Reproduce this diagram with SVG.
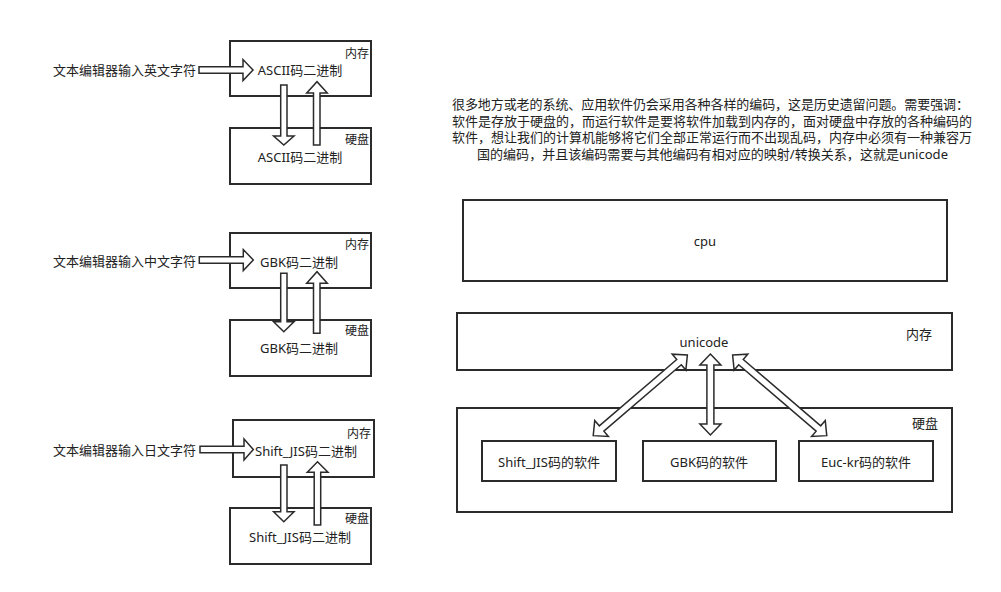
<svg xmlns="http://www.w3.org/2000/svg" width="1001" height="592" viewBox="0 0 1001 592">
<style>
text{font-family:"Noto Sans","Noto Sans CJK SC",sans-serif;font-size:13px;fill:#222;dominant-baseline:central}
.box{fill:none;stroke:#2b2b2b;stroke-width:2}
.tag{font-size:12px;text-anchor:end}
.mid{text-anchor:middle}
.arr{fill:#fff;stroke:#2b2b2b;stroke-width:1.5;stroke-linejoin:miter}
</style>
<defs>
<polygon id="dbl" points="-62,0 -51,-10.5 -51,-3.5 51,-3.5 51,-10.5 62,0 51,10.5 51,3.5 -51,3.5 -51,10.5"/>
<polygon id="dblv" points="-40.5,0 -29.5,-10.5 -29.5,-3.5 29.5,-3.5 29.5,-10.5 40.5,0 29.5,10.5 29.5,3.5 -29.5,3.5 -29.5,10.5"/>
</defs>
<rect width="1001" height="592" fill="#fff"/>

<g id="label1"><text x="53" y="70">文本编辑器输入英文字符</text></g>
<g id="mem1"><rect class="box" x="230" y="41" width="141" height="55"/><text class="tag" x="369" y="53">内存</text><text class="mid" x="300" y="70">ASCII码二进制</text></g>
<g id="disk1"><rect class="box" x="230" y="128" width="141" height="56"/><text class="tag" x="369" y="139">硬盘</text><text class="mid" x="300" y="157">ASCII码二进制</text></g>

<g id="label2"><text x="53" y="261">文本编辑器输入中文字符</text></g>
<g id="mem2"><rect class="box" x="230" y="233" width="141" height="55"/><text class="tag" x="369" y="244">内存</text><text class="mid" x="299" y="262">GBK码二进制</text></g>
<g id="disk2"><rect class="box" x="230" y="320" width="141" height="56"/><text class="tag" x="369" y="330">硬盘</text><text class="mid" x="299" y="348">GBK码二进制</text></g>

<g id="label3"><text x="53" y="450">文本编辑器输入日文字符</text></g>
<g id="mem3"><rect class="box" x="233" y="420" width="141" height="57"/><text class="tag" x="371" y="433">内存</text><text class="mid" x="306" y="451">Shift_JIS码二进制</text></g>
<g id="disk3"><rect class="box" x="230" y="508" width="141" height="56"/><text class="tag" x="369" y="518">硬盘</text><text class="mid" x="300" y="537">Shift_JIS码二进制</text></g>

<g id="note">
<text x="452" y="104" textLength="517" lengthAdjust="spacing">很多地方或老的系统、应用软件仍会采用各种各样的编码，这是历史遗留问题。需要强调：</text>
<text x="452" y="120.5" textLength="520" lengthAdjust="spacing">软件是存放于硬盘的，而运行软件是要将软件加载到内存的，面对硬盘中存放的各种编码的</text>
<text x="452" y="137" textLength="520" lengthAdjust="spacing">软件，想让我们的计算机能够将它们全部正常运行而不出现乱码，内存中必须有一种兼容万</text>
<text x="477" y="153.5" textLength="471" lengthAdjust="spacingAndGlyphs">国的编码，并且该编码需要与其他编码有相对应的映射/转换关系，这就是unicode</text>
</g>

<g id="cpu"><rect class="box" x="463" y="200" width="484" height="81"/><text class="mid" x="705" y="241">cpu</text></g>
<g id="memory"><rect class="box" x="457" y="313" width="495" height="57"/><text class="mid" x="704" y="342">unicode</text><text class="mid" x="919" y="334">内存</text></g>
<g id="disk"><rect class="box" x="457" y="408" width="495" height="104"/><text class="mid" x="925" y="423">硬盘</text></g>
<g id="sjis"><rect class="box" x="482" y="441" width="134" height="40"/><text class="mid" x="549" y="462">Shift_JIS码的软件</text></g>
<g id="gbk"><rect class="box" x="643" y="441" width="133" height="40"/><text class="mid" x="709" y="462">GBK码的软件</text></g>
<g id="euckr"><rect class="box" x="799" y="441" width="134" height="40"/><text class="mid" x="866" y="462">Euc-kr码的软件</text></g>

<g id="connectors">
<path class="arr" d="M199,66.7H243V59.5L253,70L243,80.5V73.3H199Z"/>
<path class="arr" d="M280.7,85H287V136H294L283.8,145L273.6,136H280.7Z"/>
<path class="arr" d="M313.5,145H320V93H327.3L317,81.7L306.7,93H313.5Z"/>

<path class="arr" d="M199.3,256.7H243.3V249.5L253.3,260L243.3,270.5V263.3H199.3Z"/>
<path class="arr" d="M280.7,273.3H287V321.7H294L283.8,331.7L273.6,321.7H280.7Z"/>
<path class="arr" d="M313.5,333.3H320V283.3H327.3L317,271.7L306.7,283.3H313.5Z"/>

<path class="arr" d="M200,446.2H244V439L253.3,449.5L244,460V452.8H200Z"/>
<path class="arr" d="M280.7,465H287V511.7H294L283.8,521.7L273.6,511.7H280.7Z"/>
<path class="arr" d="M314.2,525H320.7V472.3H328L317.5,461.7L307.3,472.3H314.2Z"/>

<use href="#dbl" class="arr" transform="translate(640.3,395.3) rotate(139.4)"/>
<use href="#dblv" class="arr" transform="translate(710.4,394.5) rotate(90)"/>
<use href="#dbl" class="arr" transform="translate(779.7,395.3) rotate(40.6)"/>
</g>
</svg>
